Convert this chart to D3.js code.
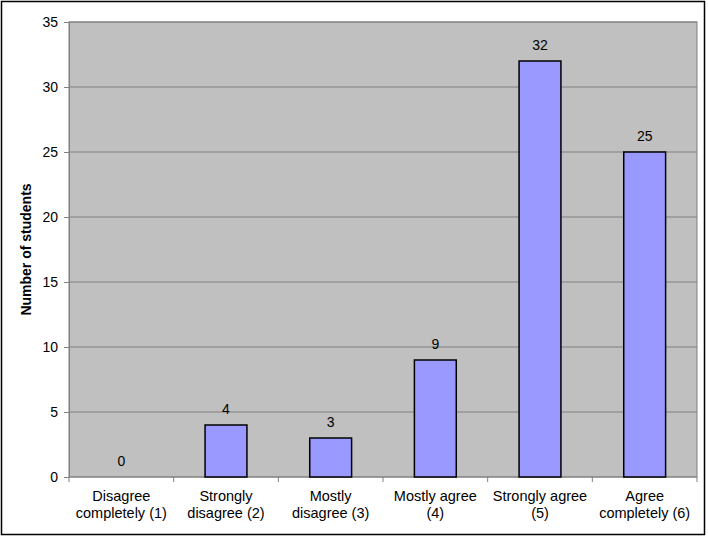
<!DOCTYPE html>
<html>
<head>
<meta charset="utf-8">
<script src="https://cdn.jsdelivr.net/npm/d3@7"></script>
<style>
  body { margin: 0; background: #fff; }
  text { font-family: "Liberation Sans", Arial, sans-serif; fill: #000; }
</style>
</head>
<body>
<div id="chart"></div>
<script>
// categories, values and ticks
var categories = [
  ["Disagree", "completely (1)"],
  ["Strongly", "disagree (2)"],
  ["Mostly", "disagree (3)"],
  ["Mostly agree", "(4)"],
  ["Strongly agree", "(5)"],
  ["Agree", "completely (6)"]
];
var values = [0, 4, 3, 9, 32, 25];
var yTicks = [0, 5, 10, 15, 20, 25, 30, 35];

var W = 708, H = 538;
// plot area edges (note: "top" is reserved on window)
var pLeft = 69, pRight = 697, pTop = 22, pBottom = 477;

var svg = d3.select("#chart")
  .append("svg")
  .attr("width", W)
  .attr("height", H);

// outer frame
svg.append("rect")
  .attr("x", 1.5).attr("y", 1.5)
  .attr("width", 703).attr("height", 533)
  .attr("fill", "#fff")
  .attr("stroke", "#000")
  .attr("stroke-width", 1.5);

var x = d3.scaleBand()
  .domain(d3.range(categories.length))
  .range([pLeft, pRight])
  .padding(0);

var y = d3.scaleLinear()
  .domain([0, 35])
  .range([pBottom, pTop]);

// plot area
svg.append("rect")
  .attr("x", pLeft).attr("y", pTop)
  .attr("width", pRight - pLeft).attr("height", pBottom - pTop)
  .attr("fill", "#c0c0c0")
  .attr("stroke", "#808080")
  .attr("stroke-width", 1);

// gridlines
svg.selectAll("line.grid")
  .data(yTicks.filter(function(d) { return d > 0; }))
  .enter()
  .append("line")
  .attr("class", "grid")
  .attr("x1", pLeft).attr("x2", pRight)
  .attr("y1", function(d) { return y(d); })
  .attr("y2", function(d) { return y(d); })
  .attr("stroke", "#808080")
  .attr("stroke-width", 1);

// y axis
var yAxis = svg.append("g")
  .attr("transform", "translate(" + pLeft + ",0)")
  .call(d3.axisLeft(y).tickValues(yTicks).tickSize(5).tickPadding(6));
yAxis.select(".domain").attr("stroke", "#808080");
yAxis.selectAll(".tick line").attr("stroke", "#808080");
yAxis.selectAll(".tick text")
  .attr("font-size", "14px")
  .attr("font-family", "Liberation Sans, Arial, sans-serif");

// x axis line + ticks at band boundaries
svg.append("line")
  .attr("x1", pLeft).attr("x2", pRight)
  .attr("y1", pBottom).attr("y2", pBottom)
  .attr("stroke", "#808080");
svg.selectAll("line.xtick")
  .data(d3.range(categories.length + 1))
  .enter()
  .append("line")
  .attr("class", "xtick")
  .attr("x1", function(d) { return pLeft + d * x.step(); })
  .attr("x2", function(d) { return pLeft + d * x.step(); })
  .attr("y1", pBottom).attr("y2", pBottom + 5)
  .attr("stroke", "#808080");

// bars
var bw = x.bandwidth() * 0.4;
svg.selectAll("rect.bar")
  .data(values)
  .enter()
  .append("rect")
  .attr("class", "bar")
  .attr("x", function(d, i) { return x(i) + (x.bandwidth() - bw) / 2; })
  .attr("y", function(d) { return y(d); })
  .attr("width", bw)
  .attr("height", function(d) { return y(0) - y(d); })
  .attr("fill", "#9999ff")
  .attr("stroke", "#000")
  .attr("stroke-width", 1.5)
  .style("display", function(d) { return d > 0 ? null : "none"; });

// value labels
svg.selectAll("text.val")
  .data(values)
  .enter()
  .append("text")
  .attr("class", "val")
  .attr("x", function(d, i) { return x(i) + x.bandwidth() / 2; })
  .attr("y", function(d) { return y(d) - 11; })
  .attr("text-anchor", "middle")
  .attr("font-size", "14px")
  .text(function(d) { return d; });

// category labels
var cat = svg.selectAll("text.cat")
  .data(categories)
  .enter()
  .append("text")
  .attr("class", "cat")
  .attr("text-anchor", "middle")
  .attr("font-size", "14.5px");
cat.each(function(d, i) {
  var t = d3.select(this);
  d.forEach(function(line, k) {
    t.append("tspan")
      .attr("x", x(i) + x.bandwidth() / 2)
      .attr("y", 501 + k * 17)
      .text(line);
  });
});

// y title
svg.append("text")
  .attr("transform", "translate(31," + ((pTop + pBottom) / 2) + ") rotate(-90)")
  .attr("text-anchor", "middle")
  .attr("font-size", "14px")
  .attr("font-weight", "bold")
  .text("Number of students");
</script>
</body>
</html>
